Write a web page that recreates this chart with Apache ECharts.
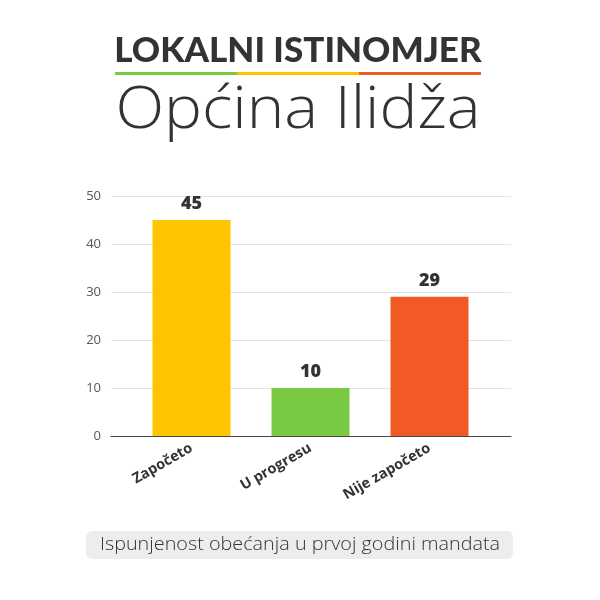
<!DOCTYPE html>
<html>
<head>
<meta charset="utf-8">
<script src="https://cdn.jsdelivr.net/npm/echarts@6/dist/echarts.min.js"></script>
<style>
  html, body { margin: 0; padding: 0; background: #fff; }
  #chart { width: 600px; height: 600px; }
</style>
</head>
<body>
<div id="chart"></div>
<script>
const categories = ['Započeto', 'U progresu', 'Nije započeto'];
const values = [45, 10, 29];
const barColors = ['#FFC400', '#7AC943', '#F15A24'];
const yTicks = [0, 10, 20, 30, 40, 50];

const titleTop = 'LOKALNI ISTINOMJER';
const titleMain = 'Općina Ilidža';
const caption = 'Ispunjenost obećanja u prvoj godini mandata';

const myChart = echarts.init(document.getElementById('chart'));

var option = {
    backgroundColor: '#fff',
    animation: false,
    grid: [
        // outer grid: axis line and split lines run wider than the bars
        { left: 111, right: 89, top: 196, bottom: 164 },
        { left: 132, right: 111, top: 196, bottom: 164 }
    ],
    xAxis: [{
        gridIndex: 0,
        type: 'value',
        min: 0,
        max: 1,
        axisLine: { show: true, lineStyle: { color: '#444', width: 1 } },
        axisTick: { show: false },
        axisLabel: { show: false },
        splitLine: { show: false }
    }, {
        gridIndex: 1,
        type: 'category',
        data: categories,
        axisLine: { show: false },
        axisTick: { show: false },
        axisLabel: {
            rotate: 30,
            margin: 11,
            color: '#333',
            fontFamily: 'Open Sans',
            fontWeight: 'bold',
            fontSize: 14.5
        }
    }],
    yAxis: [{
        gridIndex: 0,
        type: 'value',
        min: yTicks[0],
        max: yTicks[yTicks.length - 1],
        interval: 10,
        axisLine: { show: false },
        axisTick: { show: false },
        axisLabel: { color: '#555', fontFamily: 'Open Sans', fontSize: 13, margin: 10 },
        splitLine: { lineStyle: { color: '#e3e3e3', width: 1 } }
    }, {
        gridIndex: 1,
        type: 'value',
        min: yTicks[0],
        max: yTicks[yTicks.length - 1],
        show: false
    }],
    series: [{
        type: 'bar',
        xAxisIndex: 1,
        yAxisIndex: 1,
        barWidth: 78,
        data: values.map((v, i) => ({ value: v, itemStyle: { color: barColors[i] } })),
        label: {
            show: true,
            position: 'top',
            distance: 7,
            color: '#333',
            fontFamily: 'Open Sans',
            fontWeight: 800,
            fontSize: 18
        }
    }],
    graphic: [{
        type: 'text',
        style: {
            text: titleTop,
            x: 298, y: 51,
            textAlign: 'center',
            textVerticalAlign: 'middle',
            font: '900 35px Lato',
            fill: '#333'
        }
    }, {
        type: 'rect',
        shape: { x: 115, y: 72, width: 122, height: 3 },
        style: { fill: barColors[1] }
    }, {
        type: 'rect',
        shape: { x: 237, y: 72, width: 122, height: 3 },
        style: { fill: barColors[0] }
    }, {
        type: 'rect',
        shape: { x: 359, y: 72, width: 122, height: 3 },
        style: { fill: barColors[2] }
    }, {
        type: 'text',
        x: 298, y: 111,
        scaleX: 1.08,
        style: {
            text: titleMain,
            x: 0, y: 0,
            textAlign: 'center',
            textVerticalAlign: 'middle',
            font: '300 59px "Open Sans"',
            fill: '#333'
        }
    }, {
        type: 'rect',
        shape: { x: 86, y: 531, width: 427, height: 28, r: 6 },
        style: { fill: '#ededed' }
    }, {
        type: 'text',
        x: 300, y: 545,
        scaleX: 1.1,
        style: {
            text: caption,
            x: 0, y: 0,
            textAlign: 'center',
            textVerticalAlign: 'middle',
            font: '300 18px "Open Sans"',
            fill: '#333'
        }
    }]
};

myChart.setOption(option);
</script>
</body>
</html>
